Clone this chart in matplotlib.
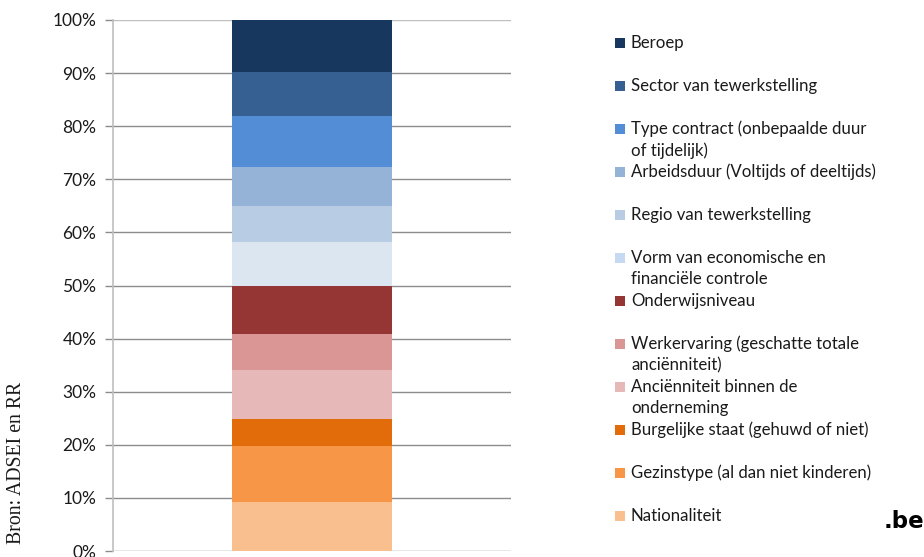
import matplotlib
matplotlib.use("Agg")
import matplotlib.pyplot as plt
from matplotlib.patches import Rectangle
from matplotlib.ticker import FuncFormatter

# Data (bottom to top)
categories = [
    "Nationaliteit",
    "Gezinstype (al dan niet kinderen)",
    "Burgelijke staat (gehuwd of niet)",
    "Anciënniteit binnen de\nonderneming",
    "Werkervaring (geschatte totale\nanciënniteit)",
    "Onderwijsniveau",
    "Vorm van economische en\nfinanciële controle",
    "Regio van tewerkstelling",
    "Arbeidsduur (Voltijds of deeltijds)",
    "Type contract (onbepaalde duur\nof tijdelijk)",
    "Sector van tewerkstelling",
    "Beroep",
]
values = [9.2, 10.55, 5.1, 9.2, 6.8, 9.1, 8.15, 6.95, 7.35, 9.6, 8.3, 9.7]
colors = ["#FABF8F", "#F79646", "#E26B0A", "#E6B8B7", "#DA9694", "#963634",
          "#DCE6F1", "#B8CCE4", "#95B3D7", "#538DD5", "#366092", "#17375E"]
legend_colors = ["#FABF8F", "#F79646", "#E26B0A", "#E6B8B7", "#DA9694", "#963634",
                 "#C5D9F1", "#B8CCE4", "#95B3D7", "#538DD5", "#366092", "#17375E"]
yticks = [0, 10, 20, 30, 40, 50, 60, 70, 80, 90, 100]

W, H = 924, 557
fig = plt.figure(figsize=(W / 100, H / 100), dpi=100)
ax = fig.add_axes([113 / W, 1 - 551 / H, (510.5 - 113) / W, (551 - 20) / H])

tick_font = "Lato"
bottom = 0
for v, c in zip(values, colors):
    ax.bar(0, v, bottom=bottom, width=0.403, color=c, zorder=3, linewidth=0)
    bottom += v

ax.set_xlim(-0.5, 0.5)
ax.set_ylim(0, 100)
ax.set_yticks(yticks)
ax.yaxis.set_major_formatter(FuncFormatter(lambda v, p: f"{int(v)}%"))
ax.set_xticks([])
for y in yticks:
    ax.axhline(y, color="#8c8c8c" if y < 100 else "#bfbfbf", linewidth=1.0, zorder=1)
for s in ["top", "right", "bottom"]:
    ax.spines[s].set_visible(False)
ax.spines["left"].set_color("#bfbfbf")
ax.spines["left"].set_linewidth(1.2)
ax.tick_params(axis="y", length=6, width=1, color="#8c8c8c", pad=6,
               labelsize=12.5, labelcolor="#1a1a1a")
for lab in ax.get_yticklabels():
    lab.set_fontfamily(tick_font)

# Legend (manual, top entry = top of stack)
n = len(categories)
for i in range(n):
    idx = n - 1 - i
    yc = 43 + 43 * i
    fig.add_artist(Rectangle((615 / W, 1 - (yc + 4.5) / H), 9.5 / W, 9.5 / H,
                             transform=fig.transFigure, color=legend_colors[idx], lw=0))
    for k, line in enumerate(categories[idx].split("\n")):
        fig.text(631 / W, 1 - (yc + 21.5 * k) / H, line, fontsize=12.1,
                 family=tick_font, va="center", ha="left", color="#1a1a1a")

fig.text(17 / W, 1 - 463 / H, "Bron: ADSEI en RR", rotation=90, fontsize=14.2,
         family="Liberation Serif", va="center", ha="center", color="#1a1a1a")
fig.text(904 / W, 1 - 521 / H, ".be", fontsize=16.5, fontweight="bold",
         family="DejaVu Sans", va="center", ha="center", color="black")

fig.savefig("out.png", dpi=100)
